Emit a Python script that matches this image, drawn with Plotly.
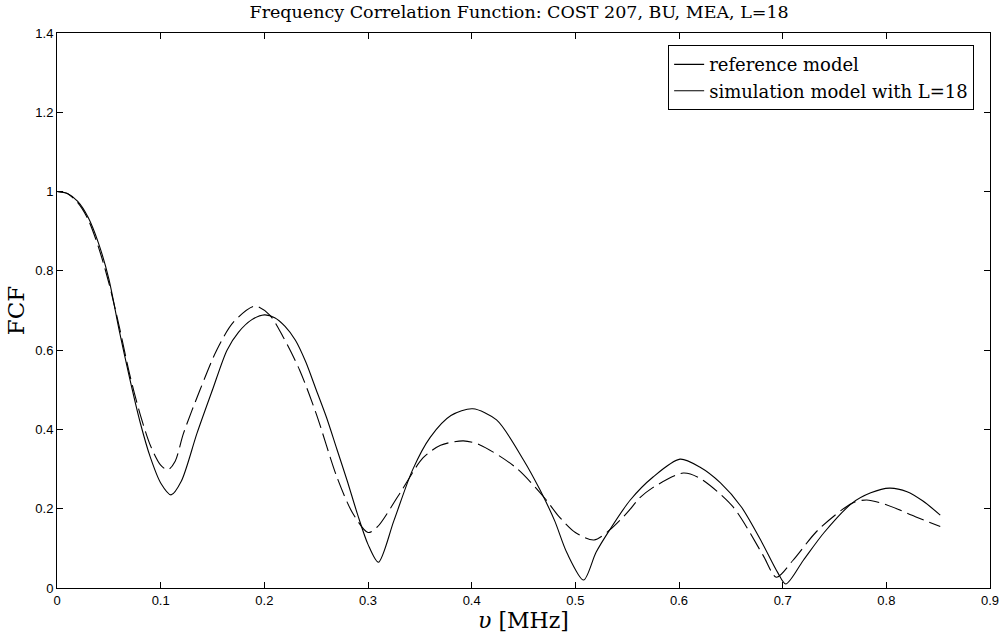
import plotly.graph_objects as go

# Reference model (solid)
ref_x = [0.0, 0.01, 0.02, 0.03, 0.04, 0.05, 0.06, 0.07, 0.08, 0.09, 0.10, 0.11,
         0.12, 0.135, 0.15, 0.164, 0.175, 0.188, 0.20, 0.21, 0.22, 0.23, 0.24, 0.25,
         0.26, 0.27, 0.28, 0.29, 0.30, 0.31,
         0.325, 0.343, 0.36, 0.38, 0.401, 0.424, 0.45, 0.466, 0.48, 0.492, 0.508,
         0.52, 0.533, 0.553, 0.575, 0.601, 0.62, 0.64, 0.66, 0.68, 0.695, 0.703,
         0.72, 0.74, 0.767, 0.785, 0.803, 0.82, 0.835, 0.852]
ref_y = [1.0, 0.995, 0.975, 0.935, 0.87, 0.78, 0.65, 0.53, 0.42, 0.33, 0.265, 0.235,
         0.27, 0.39, 0.50, 0.60, 0.645, 0.677, 0.689, 0.682, 0.66, 0.625, 0.57, 0.50,
         0.43, 0.35, 0.27, 0.185, 0.11, 0.065,
         0.17, 0.298, 0.38, 0.435, 0.452, 0.424, 0.323, 0.247, 0.17, 0.088, 0.02,
         0.09, 0.146, 0.222, 0.28, 0.325, 0.305, 0.265, 0.205, 0.115, 0.04, 0.01,
         0.07, 0.14, 0.214, 0.24, 0.252, 0.243, 0.22, 0.184]

# Simulation model with L=18 (dashed)
sim_x = [0.0, 0.01, 0.02, 0.03, 0.04, 0.05, 0.06, 0.07, 0.08, 0.09, 0.10, 0.107,
         0.114, 0.122, 0.138, 0.154, 0.17, 0.191, 0.205, 0.218, 0.234, 0.25, 0.27, 0.285, 0.30,
         0.309, 0.331, 0.353, 0.37, 0.392, 0.408, 0.443, 0.472, 0.483, 0.50, 0.518,
         0.533, 0.55, 0.562, 0.574, 0.604, 0.62, 0.652, 0.681, 0.694, 0.71, 0.734,
         0.767, 0.781, 0.80, 0.828, 0.852]
sim_y = [1.0, 0.995, 0.972, 0.93, 0.86, 0.77, 0.66, 0.54, 0.44, 0.36, 0.31, 0.298,
         0.32, 0.39, 0.50, 0.60, 0.67, 0.711, 0.689, 0.634, 0.55, 0.44, 0.28, 0.19, 0.14,
         0.154, 0.24, 0.328, 0.36, 0.371, 0.361, 0.303, 0.222, 0.184, 0.14, 0.121,
         0.146, 0.19, 0.227, 0.252, 0.29, 0.277, 0.205, 0.083, 0.027, 0.07, 0.146,
         0.214, 0.222, 0.21, 0.18, 0.155]

legend_names = ["reference model", "simulation model with L=18"]
x_ticks = [0, 0.1, 0.2, 0.3, 0.4, 0.5, 0.6, 0.7, 0.8, 0.9]
x_tick_labels = ["0", "0.1", "0.2", "0.3", "0.4", "0.5", "0.6", "0.7", "0.8", "0.9"]
y_ticks = [0, 0.2, 0.4, 0.6, 0.8, 1.0, 1.2, 1.4]
y_tick_labels = ["0", "0.2", "0.4", "0.6", "0.8", "1", "1.2", "1.4"]

serif = "DejaVu Serif, serif"
sans = "Liberation Sans, Arial, sans-serif"

fig = go.Figure()
fig.add_trace(go.Scatter(x=ref_x, y=ref_y, mode="lines", showlegend=False,
                         line=dict(color="black", width=1.1, shape="spline", smoothing=0.8)))
fig.add_trace(go.Scatter(x=sim_x, y=sim_y, mode="lines", showlegend=False,
                         line=dict(color="black", width=1.1, dash="18px,6px",
                                   shape="spline", smoothing=0.8)))
for nm in legend_names:
    fig.add_trace(go.Scatter(x=[None], y=[None], mode="lines", name=nm,
                             line=dict(color="black", width=1.1)))

axis_common = dict(showgrid=False, zeroline=False, showline=True, linecolor="black",
                   linewidth=1, mirror="ticks", ticks="inside", ticklen=6,
                   tickcolor="black", automargin=False,
                   tickfont=dict(family=sans, size=13, color="black"))

fig.update_layout(
    width=1008, height=637,
    margin=dict(l=57, r=18, t=33, b=49),
    paper_bgcolor="white", plot_bgcolor="white",
    title=dict(text="Frequency Correlation Function: COST 207, BU, MEA, L=18",
               x=0.515, xanchor="center", y=0.982, yanchor="middle",
               font=dict(family=serif, size=17.5, color="black")),
    xaxis=dict(range=[0, 0.9], tickvals=x_ticks, ticktext=x_tick_labels,
               title=dict(text="<i>υ</i> [MHz]", standoff=6,
                          font=dict(family=serif, size=22, color="black")),
               **axis_common),
    yaxis=dict(range=[0, 1.4], tickvals=y_ticks, ticktext=y_tick_labels,
               title=dict(text="FCF", standoff=4,
                          font=dict(family=serif, size=23, color="black")),
               **axis_common),
    legend=dict(x=0.983, y=0.978, xanchor="right", yanchor="top",
                bordercolor="black", borderwidth=1, bgcolor="white",
                font=dict(family=serif, size=18, color="black"),
                tracegroupgap=0, itemwidth=30),
)

fig.write_html("out.html")
